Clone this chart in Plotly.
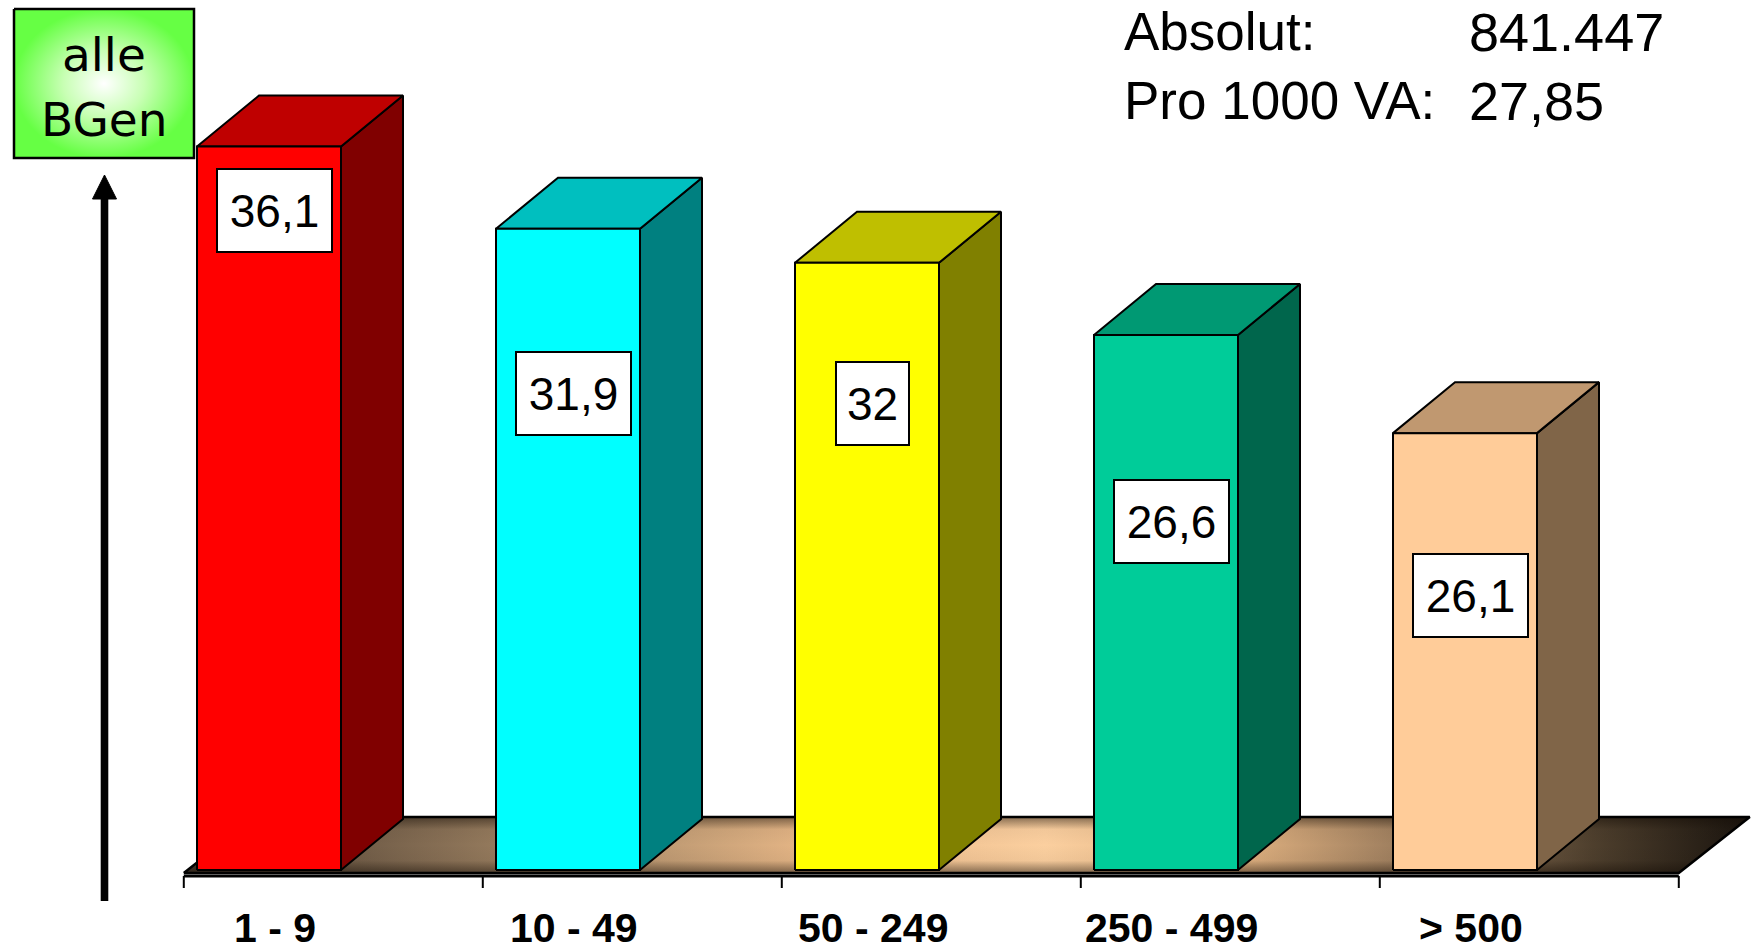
import plotly.graph_objects as go

# ---------------- data ----------------
categories = ["1 - 9", "10 - 49", "50 - 249", "250 - 499", "> 500"]
bar_heights = [36.1, 32.0, 30.3, 26.7, 21.8]          # drawn bar heights
value_labels = ["36,1", "31,9", "32", "26,6", "26,1"]  # printed values
summary_labels = ["Absolut:", "Pro 1000 VA:"]
summary_values = ["841.447", "27,85"]
badge_lines = ["alle", "BGen"]

# ---------------- styles ----------------
front_colors = ["#FF0000", "#00FFFF", "#FFFF00", "#00CC99", "#FFCC99"]
side_colors = ["#800000", "#008080", "#808000", "#00664C", "#806548"]
top_colors = ["#BF0000", "#00BFBF", "#BFBF00", "#009973", "#C09870"]
LABEL_Y = [32.9, 23.8, 23.3, 17.4, 13.7]   # label box centres (value units)

W, H = 1754, 952
X0_PX, PX_PER_X = 269.0, 299.0
Y0_PX, PX_PER_Y = 870.0, 20.04


def px(x):
    return (x - X0_PX) / PX_PER_X


def py(y):
    return (Y0_PX - y) / PX_PER_Y


BAR_W = 144 / PX_PER_X
DX = 62 / PX_PER_X
DY = 51 / PX_PER_Y
FLOOR_DX = 71 / PX_PER_X
FLOOR_DY = 56 / PX_PER_Y
FLOOR_FRONT = py(873)
AXIS_Y = py(876)
TICK_END = py(888)

n = len(categories)
tick_x = [i - 0.285 for i in range(n + 1)]

fig = go.Figure()

# ---------------- floor ----------------
fx = [tick_x[0], tick_x[-1], tick_x[-1] + FLOOR_DX, tick_x[0] + FLOOR_DX, tick_x[0]]
fy = [FLOOR_FRONT, FLOOR_FRONT, FLOOR_FRONT + FLOOR_DY, FLOOR_FRONT + FLOOR_DY, FLOOR_FRONT]
fig.add_trace(go.Scatter(
    x=fx, y=fy, mode="lines", fill="toself", line=dict(width=0, color="rgba(0,0,0,0)"),
    fillgradient=dict(type="horizontal", colorscale=[
        [0.0, "#4a3c2e"], [0.12, "#75604a"], [0.25, "#a88a68"], [0.40, "#e6b686"],
        [0.55, "#fbcf9f"], [0.68, "#dcae7e"], [0.80, "#8e7256"], [0.90, "#4e3f2d"],
        [1.0, "#1a140e"]]),
    hoverinfo="skip", showlegend=False))
fig.add_trace(go.Scatter(
    x=fx, y=fy, mode="lines", fill="toself", line=dict(width=0, color="rgba(0,0,0,0)"),
    fillgradient=dict(type="vertical", colorscale=[
        [0.0, "rgba(20,12,5,0.5)"], [0.22, "rgba(20,12,5,0.04)"], [0.5, "rgba(20,12,5,0.0)"],
        [0.78, "rgba(20,12,5,0.04)"], [1.0, "rgba(20,12,5,0.5)"]]),
    hoverinfo="skip", showlegend=False))
fig.add_trace(go.Scatter(
    x=fx, y=fy, mode="lines", line=dict(width=2.5, color="black"),
    hoverinfo="skip", showlegend=False))

# ---------------- bars (3D boxes) ----------------
for i, h in enumerate(bar_heights):
    l, r = i - BAR_W / 2, i + BAR_W / 2
    side = ([r, r + DX, r + DX, r, r], [0, DY, h + DY, h, 0])
    top = ([l, r, r + DX, l + DX, l], [h, h, h + DY, h + DY, h])
    front = ([l, r, r, l, l], [0, 0, h, h, 0])
    for (xs, ys), col in ((side, side_colors[i]), (top, top_colors[i]), (front, front_colors[i])):
        fig.add_trace(go.Scatter(
            x=xs, y=ys, mode="lines", fill="toself", fillcolor=col,
            line=dict(color="black", width=2), hoverinfo="skip", showlegend=False))

# ---------------- axis line & ticks ----------------
fig.add_trace(go.Scatter(
    x=[tick_x[0], tick_x[-1]], y=[AXIS_Y, AXIS_Y], mode="lines",
    line=dict(color="black", width=3), hoverinfo="skip", showlegend=False))
tx, ty = [], []
for t in tick_x:
    tx += [t, t, None]
    ty += [AXIS_Y, TICK_END, None]
fig.add_trace(go.Scatter(x=tx, y=ty, mode="lines", line=dict(color="black", width=2),
                         hoverinfo="skip", showlegend=False))

annotations = []
# category labels
for i, c in enumerate(categories):
    annotations.append(dict(
        x=i + 0.02, y=py(928), xref="x", yref="y", text=c, showarrow=False,
        xanchor="center", yanchor="middle",
        font=dict(family="Liberation Sans", size=41, color="black", weight="bold")))

# value label boxes
for i, (lab, ly) in enumerate(zip(value_labels, LABEL_Y)):
    annotations.append(dict(
        x=i + 0.02, y=ly, xref="x", yref="y", text=lab, showarrow=False,
        xanchor="center", yanchor="middle",
        width=111 if len(lab) > 2 else 69, height=79,
        bgcolor="white", bordercolor="black", borderwidth=2, borderpad=1,
        font=dict(family="Liberation Sans", size=46, color="black")))

# summary text (top right)
for k, (lab, val) in enumerate(zip(summary_labels, summary_values)):
    yc = py(31.5 + 69 * k)
    annotations.append(dict(
        x=px(1122), y=yc, xref="x", yref="y", text=lab, showarrow=False,
        xanchor="left", yanchor="middle",
        font=dict(family="Liberation Sans", size=53, color="black")))
    annotations.append(dict(
        x=px(1467), y=yc, xref="x", yref="y", text=val, showarrow=False,
        xanchor="left", yanchor="middle",
        font=dict(family="Liberation Sans", size=54, color="black")))

# ---------------- badge "alle BGen" ----------------
bx0, bx1, by0, by1 = px(14), px(194), py(9), py(158)
fig.add_trace(go.Scatter(
    x=[bx0, bx1, bx1, bx0, bx0], y=[by0, by0, by1, by1, by0], mode="lines", fill="toself",
    line=dict(color="black", width=2.5),
    fillgradient=dict(type="radial", colorscale=[[0, "#ffffff"], [0.45, "#c8ffb4"], [1, "#66ff44"]]),
    hoverinfo="skip", showlegend=False))
for k, t in enumerate(badge_lines):
    annotations.append(dict(
        x=px(104), y=py(54.5 + 65 * k), xref="x", yref="y", text=t, showarrow=False,
        xanchor="center", yanchor="middle",
        font=dict(family="DejaVu Sans", size=47, color="black")))

# ---------------- arrow ----------------
shapes = [
    dict(type="line", xref="x", yref="y", x0=px(104.5), x1=px(104.5), y0=py(901), y1=py(196),
         line=dict(color="black", width=7.6)),
    dict(type="path", xref="x", yref="y",
         path=f"M {px(92.5)},{py(199)} L {px(104.5)},{py(175)} L {px(116.5)},{py(199)} Z",
         fillcolor="black", line=dict(color="black", width=1)),
]

fig.update_layout(
    width=W, height=H, margin=dict(l=0, r=0, t=0, b=0),
    paper_bgcolor="white", plot_bgcolor="white",
    xaxis=dict(range=[px(0), px(W)], visible=False, fixedrange=True),
    yaxis=dict(range=[py(H), py(0)], visible=False, fixedrange=True),
    annotations=annotations, shapes=shapes, showlegend=False,
)

fig.write_html(
    "out.html",
    config={"displayModeBar": False},
    post_script="document.body.style.margin='0';document.body.style.overflow='hidden';",
)
